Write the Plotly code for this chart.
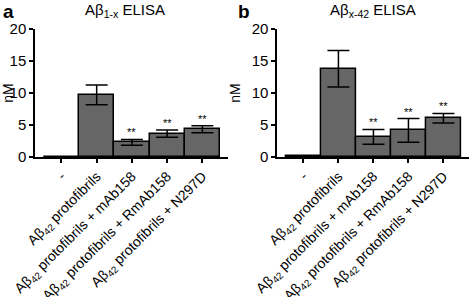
import plotly.graph_objects as go
from plotly.subplots import make_subplots

categories = ["-",
              "Aβ<sub>42</sub> protofibrils",
              "Aβ<sub>42</sub> protofibrils + mAb158",
              "Aβ<sub>42</sub> protofibrils + RmAb158",
              "Aβ<sub>42</sub> protofibrils + N297D"]
a_values = [0.0, 9.7, 2.3, 3.65, 4.35]
a_errors = [0.0, 1.55, 0.45, 0.55, 0.55]
a_stars = ["", "", "**", "**", "**"]
b_values = [0.1, 13.8, 3.15, 4.15, 6.05]
b_errors = [0.0, 2.85, 1.15, 1.85, 0.75]
b_stars = ["", "", "**", "**", "**"]
titles = ["Aβ<sub>1-x</sub> ELISA", "Aβ<sub>x-42</sub> ELISA"]
panel_letters = ["a", "b"]
y_ticks = [0, 5, 10, 15, 20]

FONT = "Liberation Sans, Arial, sans-serif"

fig = make_subplots(rows=1, cols=2, horizontal_spacing=0.11)

xs = list(range(len(categories)))
for col, (vals, errs, stars) in enumerate([(a_values, a_errors, a_stars),
                                           (b_values, b_errors, b_stars)], start=1):
    fig.add_trace(go.Bar(
        x=xs, y=vals,
        marker=dict(color="#666666", line=dict(color="black", width=1.5)),
        error_y=dict(type="data", array=errs, visible=True, color="black",
                     thickness=1.5, width=11),
        showlegend=False,
    ), row=1, col=col)
    xref = "x" if col == 1 else "x2"
    yref = "y" if col == 1 else "y2"
    for i, s in enumerate(stars):
        if s:
            fig.add_annotation(x=xs[i], y=vals[i] + errs[i], xref=xref, yref=yref,
                               text=s, showarrow=False, xanchor="center",
                               yanchor="bottom", yshift=-1,
                               font=dict(family=FONT, size=11, color="#000000"))

axis_common = dict(showline=True, linecolor="black", linewidth=1.5,
                   ticks="outside", tickcolor="black", ticklen=4, tickwidth=1.5,
                   showgrid=False, zeroline=False, automargin=False)

fig.update_xaxes(**axis_common, tickmode="array", tickvals=xs, ticktext=categories,
                 tickangle=-45, range=[-0.75, 4.73],
                 tickfont=dict(family=FONT, size=14, color="black"))
fig.update_yaxes(**axis_common, range=[0, 20], tickvals=y_ticks,
                 tickfont=dict(family=FONT, size=15, color="black"))
fig.update_xaxes(domain=[0.0, 0.445], row=1, col=1)
fig.update_xaxes(domain=[0.558, 1.0], row=1, col=2)
for c in (1, 2):
    fig.update_yaxes(title=dict(text="nM", font=dict(family=FONT, size=14, color="black"),
                                standoff=8), row=1, col=c)

for title, cx in zip(titles, [0.207, 0.779]):
    fig.add_annotation(x=cx, y=1.0, xref="paper", yref="paper", text=title,
                       showarrow=False, xanchor="center", yanchor="middle", yshift=19,
                       font=dict(family=FONT, size=15, color="#000000"))
for letter, lx in zip(panel_letters, [-0.078, 0.463]):
    fig.add_annotation(x=lx, y=1.0, xref="paper", yref="paper", text="<b>%s</b>" % letter,
                       showarrow=False, xanchor="left", yanchor="middle", yshift=18,
                       font=dict(family=FONT, size=19, color="#000000"))

fig.update_layout(width=472, height=297, bargap=0,
                  margin=dict(l=35, r=3, t=29, b=140),
                  plot_bgcolor="white", paper_bgcolor="white",
                  font=dict(family=FONT, color="black"))

fig.write_html("out.html", config={"displayModeBar": False},
               post_script="document.body.style.margin='0px';document.body.style.overflow='hidden';")
